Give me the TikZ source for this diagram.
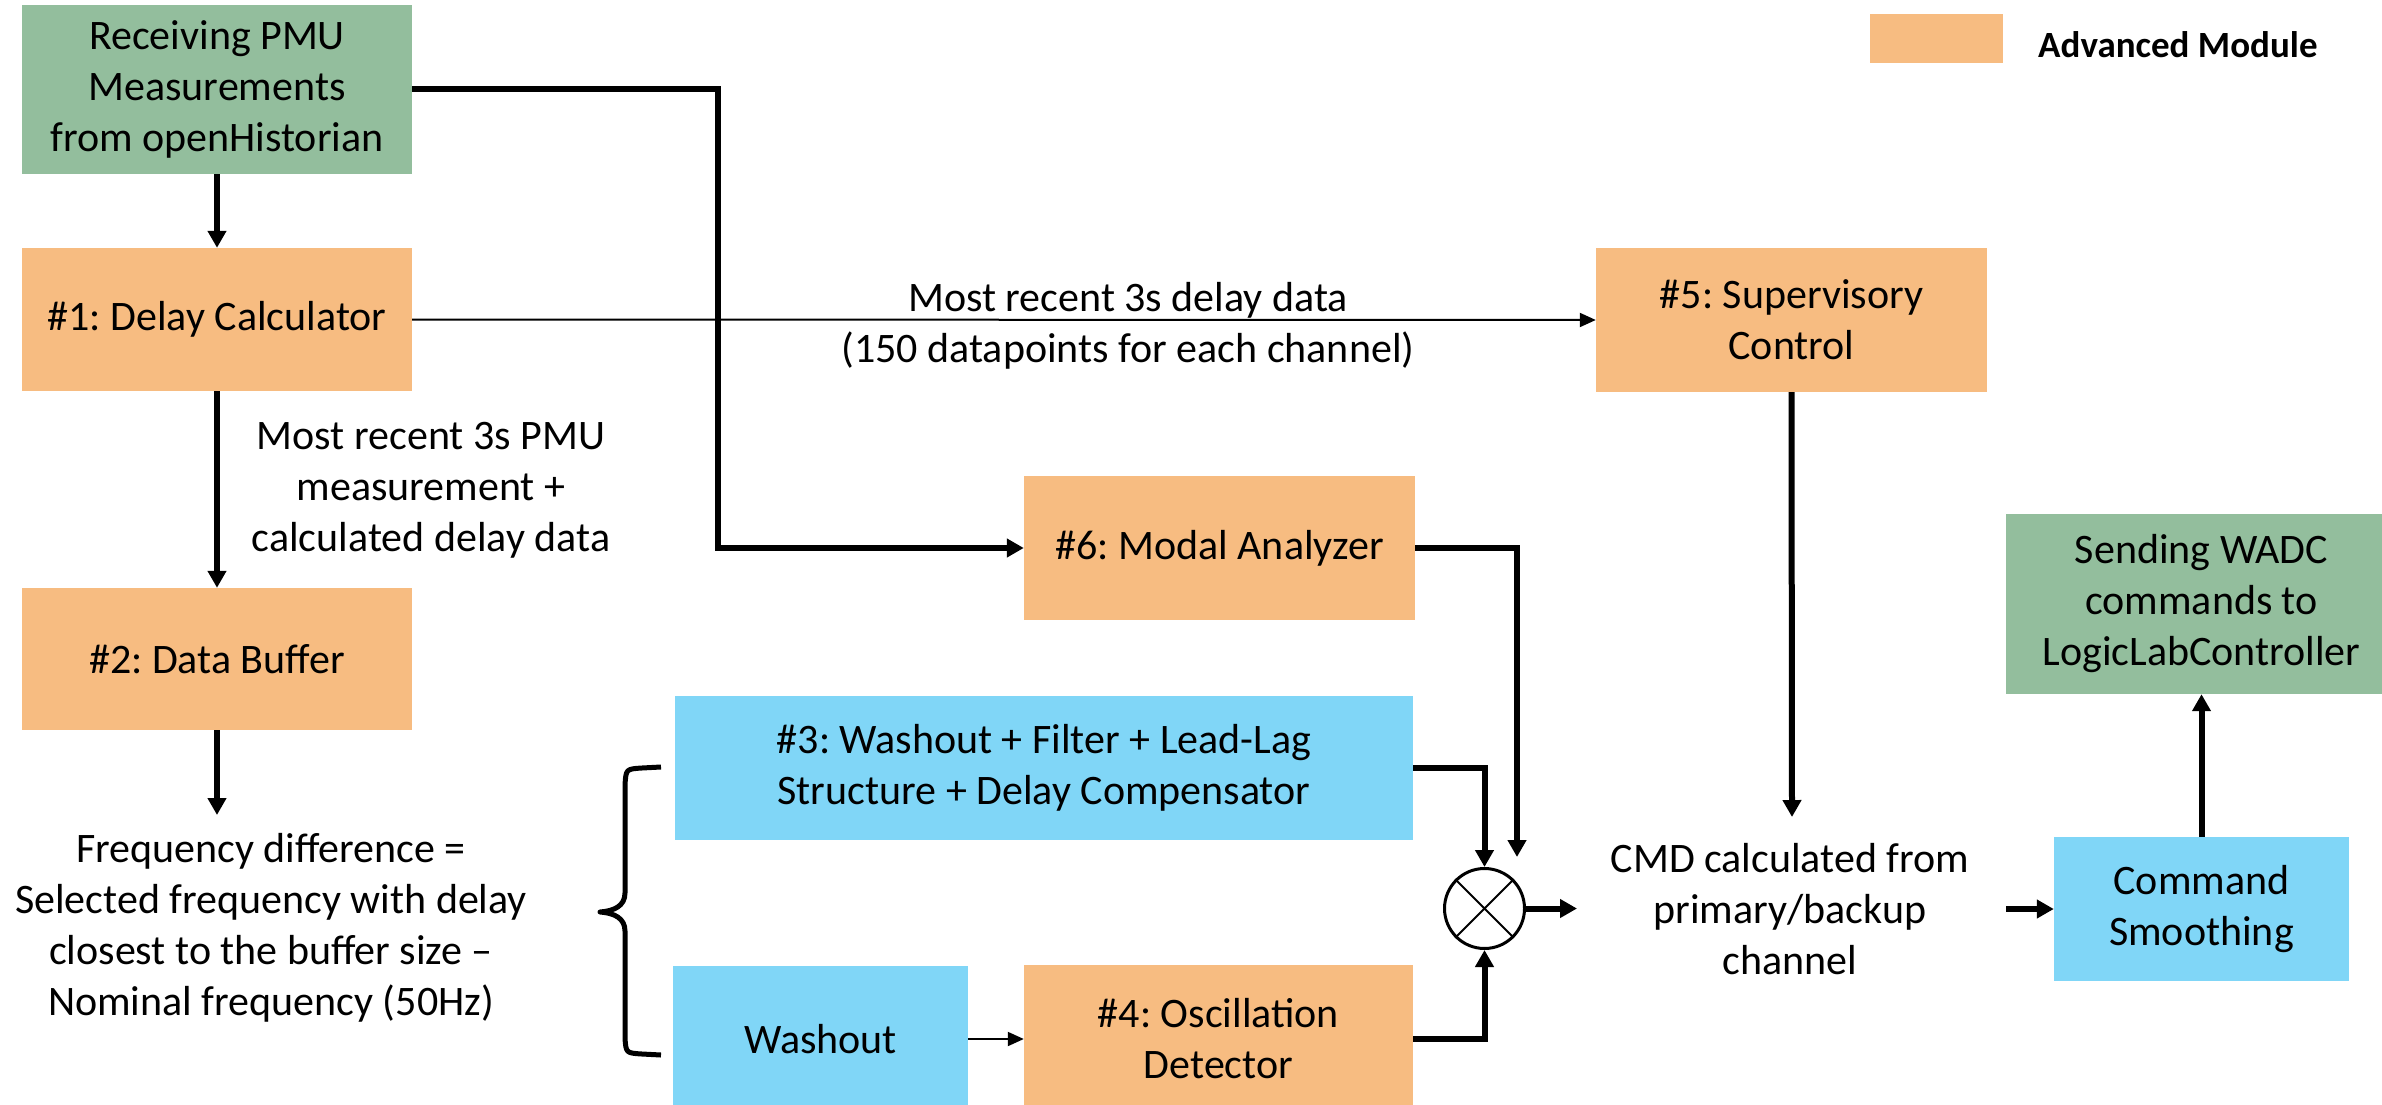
\documentclass[tikz,border=0pt]{standalone}
\usepackage{fontspec}
\setmainfont{Carlito}
\frenchspacing
\usetikzlibrary{arrows.meta}
\definecolor{orangebox}{RGB}{247,188,129}
\definecolor{greenbox}{RGB}{147,190,157}
\definecolor{bluebox}{RGB}{128,214,247}
\tikzset{
  box/.style={draw=none, inner sep=0pt, align=center, font=\fontsize{42}{51}\selectfont},
  adv/.style={box, fill=orangebox},
  io/.style={box, fill=greenbox},
  basic/.style={box, fill=bluebox},
  txt/.style={inner sep=0pt, align=center, font=\fontsize{42}{51}\selectfont},
  thickarrow/.style={line width=6pt, -{Triangle[length=17pt,width=18pt]}},
  thinarrow/.style={line width=2pt, -{Triangle[length=16pt,width=14pt]}},
}
\begin{document}
\begin{tikzpicture}[x=1pt,y=-1pt]
\useasboundingbox (0,0) rectangle (2382,1105);

% boxes
\node[io, minimum width=390pt, minimum height=169pt] (rx) at (217,89.5) {Receiving PMU\\Measurements\\from openHistorian};
\node[adv, minimum width=390pt, minimum height=143pt] (dc) at (217,319.5) {\#1: Delay Calculator};
\node[adv, minimum width=390pt, minimum height=142pt] (db) at (217,659) {\#2: Data Buffer};
\node[adv, minimum width=391pt, minimum height=144pt] (sc) at (1791.5,320) {\#5: Supervisory\\Control};
\node[adv, minimum width=391pt, minimum height=144pt] (ma) at (1219.5,548) {\#6: Modal Analyzer};
\node[basic, minimum width=738pt, minimum height=144pt] (w3) at (1044,768) {\#3: Washout + Filter + Lead-Lag\\Structure + Delay Compensator};
\node[basic, minimum width=295pt, minimum height=146pt] (wo) at (820.5,1039) {Washout};
\node[adv, minimum width=389pt, minimum height=148pt] (od) at (1218.5,1039) {\#4: Oscillation\\Detector};
\node[basic, minimum width=295pt, minimum height=144pt] (cs) at (2201.5,909) {Command\\Smoothing};
\node[io, minimum width=391pt, minimum height=180pt] (sw) at (2201.5,604) {Sending WADC\\commands to\\LogicLabController};

% legend
\node[adv, minimum width=133pt, minimum height=49pt] (lg) at (1936.5,38.5) {};
\node[inner sep=0pt, anchor=west, font=\fontsize{37}{44}\selectfont\bfseries] (lgt) at (2038,45) {Advanced Module};

% multiplier
\node[draw, circle, fill=white, line width=3pt, minimum size=80pt, inner sep=0pt] (mul) at (1484.5,908.5) {};
\draw[line width=2pt] (mul.45) -- (mul.225) (mul.135) -- (mul.315);

% text nodes
\node[txt] (pmu) at (431,490) {Most recent 3s PMU\\measurement +\\calculated delay data};
\node[txt] (freq) at (271,928) {Frequency difference =\\Selected frequency with delay\\closest to the buffer size --\\Nominal frequency (50Hz)};
\node[txt] (dl) at (1128,326) {Most recent 3s delay data\\(150 datapoints for each channel)};
\node[txt] (cmd) at (1790,909) {CMD calculated from\\primary/backup\\channel};

% coordinates
\coordinate (k1) at (718,89);
\coordinate (freqtop) at (217,815);
\coordinate (cmdtop) at (1792,817);
\coordinate (maend) at (1517,857);
\coordinate (mulout) at (1577,908.5);
\coordinate (cmdout) at (2006,909);

% connectors
\draw[thickarrow] (rx.south) -- (dc.north);
\draw[thickarrow] (rx.east |- k1) -- (k1) |- (ma.west);
\draw[thinarrow] (dc.east) -- (sc.west);
\draw[thickarrow] (dc.south) -- (db.north);
\draw[thickarrow] (db.south) -- (freqtop);
\draw[thickarrow] (sc.south) -- (cmdtop);
\draw[thickarrow] (ma.east) -| (maend);
\draw[thickarrow] (w3.east) -| (mul.north);
\draw[thickarrow] (od.east) -| (mul.south);
\draw[thinarrow] (wo.east) -- (od.west);
\draw[thickarrow] (mul.east) -- (mulout);
\draw[thickarrow] (cmdout) -- (cs.west);
\draw[thickarrow] (cs.north) -- (sw.south);

% brace
\draw[line width=5pt, line join=round] (661,767) -- (642,768) .. controls (626,769) .. (625,785) -- (625,893)
  .. controls (625,906) and (614,911) .. (600,912)
  .. controls (614,913) and (625,918) .. (625,931) -- (625,1038)
  .. controls (626,1053) .. (642,1054) -- (661,1055);
\end{tikzpicture}
\end{document}
